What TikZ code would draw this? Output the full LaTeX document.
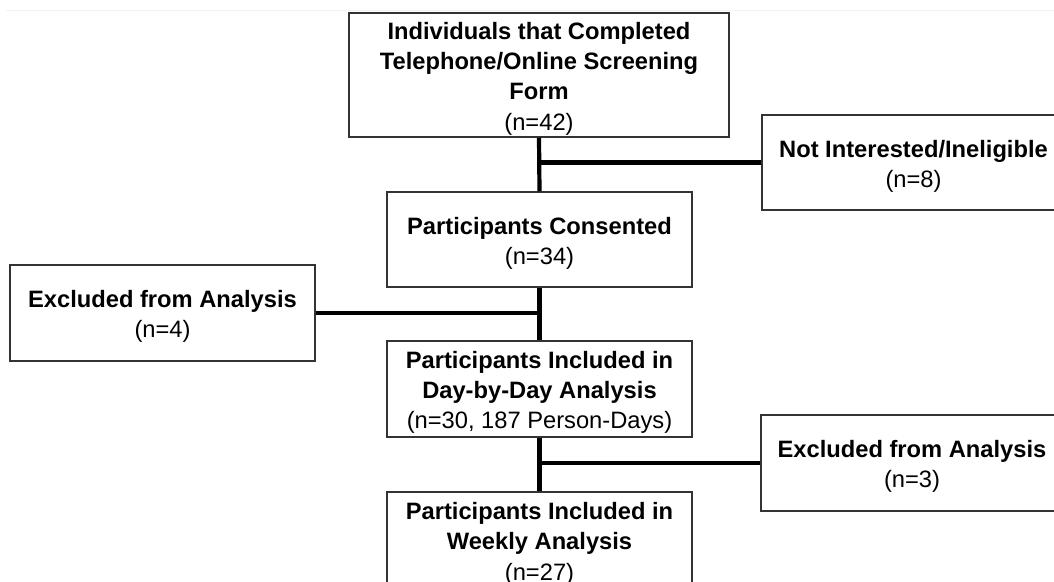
\documentclass[tikz,border=0pt]{standalone}
\usepackage{fontspec}
\setmainfont{Liberation Sans}
\newcommand{\topgap}{\rule{0pt}{24.5pt}}
\begin{document}
\begin{tikzpicture}[x=1pt,y=-1pt,
  box/.style={draw=black!80, line width=1.5pt, inner sep=0pt, align=center,
    font=\fontsize{23.7}{30.2}\selectfont, fill=white},
  conn/.style={line width=4.2pt, black}]
\useasboundingbox (0,0) rectangle (1054,581);
\clip (0,0) rectangle (1054,581);
\draw[black!5, line width=1pt] (6,10) -- (1054,10);
\node[box, minimum width=380pt, minimum height=124pt] (top) at (539,75)
  {\topgap\textbf{Individuals that Completed}\\\textbf{Telephone/Online Screening}\\\textbf{Form}\\(n=42)};
\node[box, minimum width=303pt, minimum height=95pt] (notint) at (913.5,162.5)
  {\topgap\textbf{Not Interested/Ineligible}\\(n=8)};
\node[box, minimum width=305pt, minimum height=95pt] (consent) at (539.5,239.5)
  {\topgap\textbf{Participants Consented}\\(n=34)};
\node[box, minimum width=305pt, minimum height=96pt] (excl1) at (162.5,313)
  {\topgap\textbf{Excluded from Analysis}\\(n=4)};
\node[box, minimum width=305pt, minimum height=96pt] (day) at (539.5,389)
  {\topgap\textbf{Participants Included in}\\\textbf{Day-by-Day Analysis}\\(n=30, 187 Person-Days)};
\node[box, minimum width=302pt, minimum height=96pt] (excl2) at (912,463)
  {\topgap\textbf{Excluded from Analysis}\\(n=3)};
\node[box, minimum width=305pt, minimum height=96pt] (weekly) at (539.5,540)
  {\topgap\textbf{Participants Included in}\\\textbf{Weekly Analysis}\\(n=27)};
\draw[conn] (top.south) -- (consent.north);
\draw[conn] (consent.south) -- (day.north);
\draw[conn] (day.south) -- (weekly.north);
\draw[conn] (notint.west) -- (notint.west -| top.south);
\draw[conn] (excl1.east) -- (excl1.east -| consent.south);
\draw[conn] (excl2.west) -- (excl2.west -| day.south);
\end{tikzpicture}
\end{document}
